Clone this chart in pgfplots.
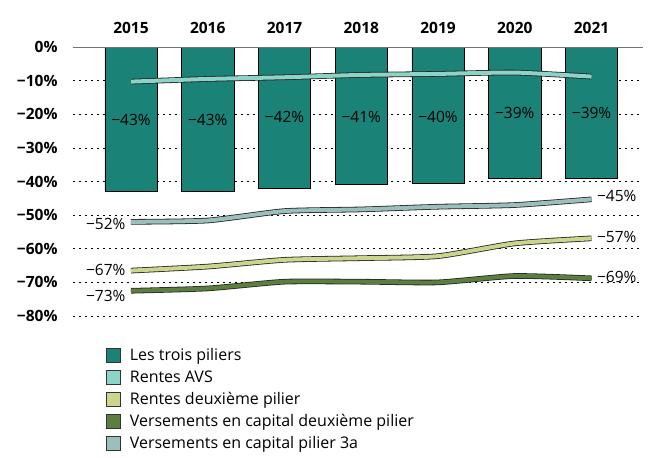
\documentclass[border=0pt]{standalone}
\usepackage{pgfplots}
\pgfplotsset{compat=1.18}
\usepackage{fontspec}
\setmainfont{Open Sans}
\usetikzlibrary{calc}
\definecolor{cteal}{HTML}{1A8276}
\definecolor{cavs}{HTML}{8CD3C8}
\definecolor{crentes}{HTML}{CDD48E}
\definecolor{ccap}{HTML}{5C7E3E}
\definecolor{cpil}{HTML}{9BBFBD}
\pgfplotsset{sq/.style={legend image code/.code={\draw[fill=#1,draw=black!80,line width=0.6pt] (0pt,-7pt) rectangle (14pt,7pt); \path (21pt,0pt);}}}
\begin{document}
\begin{tikzpicture}
\begin{axis}[name=ax, width=570pt, height=269pt, scale only axis,
  xmin=-0.755, xmax=6.67, ymin=-80, ymax=0,
  axis line style={draw=none},
  xtick={0,1,2,3,4,5,6}, xticklabels={2015,2016,2017,2018,2019,2020,2021},
  xticklabel pos=right,
  ytick={-80,-70,-60,-50,-40,-30,-20,-10,0},
  yticklabels={−80\%,−70\%,−60\%,−50\%,−40\%,−30\%,−20\%,−10\%,0\%},
  major tick length=0pt,
  tick label style={font=\fontsize{15.5}{17}\selectfont\bfseries},
  xticklabel style={yshift=10pt},
  yticklabel style={xshift=-12pt},
  ymajorgrids, major grid style={black, line width=0.6pt, dash pattern=on 2pt off 4pt},
  legend style={at={(axis description cs:0.053,-0.105)}, anchor=north west, draw=none, fill=none,
    font=\fontsize{16}{18}\selectfont, row sep=4.4pt, cells={anchor=west}},
  legend cell align=left,
  clip=false,
]
\addlegendimage{sq=cteal}\addlegendentry{Les trois piliers}
\addlegendimage{sq=cavs}\addlegendentry{Rentes AVS}
\addlegendimage{sq=crentes}\addlegendentry{Rentes deuxième pilier}
\addlegendimage{sq=ccap}\addlegendentry{Versements en capital deuxième pilier}
\addlegendimage{sq=cpil}\addlegendentry{Versements en capital pilier 3a}

\addplot[forget plot, ybar, bar width=0.68, bar shift=0pt, fill=cteal, draw=black, line width=0.6pt]
  coordinates {(0,-43) (1,-42.8) (2,-42) (3,-40.7) (4,-40.4) (5,-39) (6,-38.9)};

\addplot[forget plot, draw=none, mark=none, point meta=explicit symbolic,
  nodes near coords, every node near coord/.append style={anchor=center, font=\fontsize{15.5}{17}\selectfont}]
  coordinates {(0,-21.7)[−43\%] (1,-21.7)[−43\%] (2,-20.8)[−42\%] (3,-20.8)[−41\%] (4,-20.8)[−40\%] (5,-19.6)[−39\%] (6,-19.6)[−39\%]};

\addplot[forget plot, smooth, tension=0.35, draw=black!85, line width=0.8pt, double=cavs, double distance=4pt]
  coordinates {(0,-10.3) (1,-9.5) (2,-9.0) (3,-8.3) (4,-8.0) (5,-7.6) (6,-8.8)};
\addplot[forget plot, smooth, tension=0.35, draw=black!85, line width=0.8pt, double=cpil, double distance=4pt]
  coordinates {(0,-52.0) (1,-51.6) (2,-48.8) (3,-48.3) (4,-47.5) (5,-47.0) (6,-45.3)};
\addplot[forget plot, smooth, tension=0.35, draw=black!85, line width=0.8pt, double=crentes, double distance=4pt]
  coordinates {(0,-66.5) (1,-65.3) (2,-63.3) (3,-62.8) (4,-62.2) (5,-58.4) (6,-56.9)};
\addplot[forget plot, smooth, tension=0.35, draw=black!85, line width=0.8pt, double=ccap, double distance=4pt]
  coordinates {(0,-72.5) (1,-71.8) (2,-69.8) (3,-69.8) (4,-70.0) (5,-68.1) (6,-68.8)};

\draw[black!55, line width=0.8pt] (rel axis cs:0,1) -- (rel axis cs:1,1);

\begin{scope}[every node/.style={font=\fontsize{15.5}{17}\selectfont}]
\node[anchor=east] at ([xshift=-2pt]axis cs:0,-52.6) {−52\%};
\node[anchor=east] at ([xshift=-2pt]axis cs:0,-66.3) {−67\%};
\node[anchor=east] at ([xshift=-2pt]axis cs:0,-74.1) {−73\%};
\node[anchor=west] at ([xshift=2pt]axis cs:6,-44.4) {−45\%};
\node[anchor=west] at ([xshift=2pt]axis cs:6,-56.6) {−57\%};
\node[anchor=west] at ([xshift=2pt]axis cs:6,-68.5) {−69\%};
\end{scope}
\end{axis}
\pgfresetboundingbox
\path[use as bounding box] ($(ax.north west)+(-73pt,47pt)$) rectangle ($(ax.south east)+(14pt,-141pt)$);
\end{tikzpicture}
\end{document}
